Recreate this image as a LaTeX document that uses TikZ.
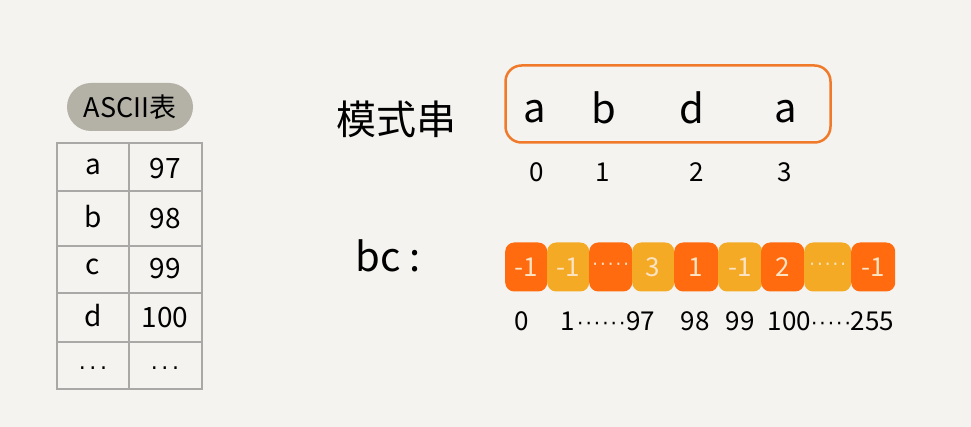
\documentclass[tikz,border=0pt]{standalone}
\usepackage{fontspec}
\setmainfont{Noto Sans CJK SC}
\newfontfamily\dv{DejaVu Sans}
\usetikzlibrary{calc}
\definecolor{bg}{HTML}{F5F3EF}
\definecolor{blob}{HTML}{B4B1A7}
\definecolor{grid}{HTML}{A9A8A6}
\definecolor{ring}{HTML}{F07A2A}
\definecolor{dark}{HTML}{FF6B0E}
\definecolor{light}{HTML}{F5AA25}
\definecolor{cream}{HTML}{FBE3C4}
\newcommand{\dts}[2][16]{{\dv\fontsize{#1}{#1}\selectfont #2}}
\newcommand{\dd}{·\kern2pt}
\begin{document}
\begin{tikzpicture}[x=1pt,y=-1pt,
  txt/.style={font=\fontsize{28}{30}\selectfont, text=black, inner sep=0pt},
  big/.style={font=\fontsize{40}{44}\selectfont, text=black, inner sep=0pt},
  idx/.style={font=\fontsize{26}{28}\selectfont, text=black, inner sep=0pt},
  cellbox/.style={rounded corners=9pt, minimum height=49pt, inner sep=0pt, text=cream,
    font=\fontsize{26}{28}\selectfont, anchor=west}]
\fill[bg] (0,0) rectangle (971,427);
\useasboundingbox (0,0) rectangle (971,427);
% ASCII label
\node[fill=blob, rounded corners=24pt, minimum width=126pt, minimum height=48pt, inner sep=0pt] (lbl) at (130,107) {};
\node[font=\fontsize{27}{29}\selectfont, inner sep=0pt] (lbltxt) at (lbl) {ASCII表};
% table
\draw[grid, line width=2pt] (57,143) rectangle (202,389);
\foreach \yy in {191,246,293,342} \draw[grid, line width=2pt] (57,\yy) -- (202,\yy);
\draw[grid, line width=2pt] (129,143) -- (129,389);
\node[txt] (ta) at (93,167) {a};   \node[txt] (va) at (165,169) {97};
\node[txt] (tb) at (93,217) {b};   \node[txt] (vb) at (165,219) {98};
\node[txt] (tc) at (93,267) {c};   \node[txt] (vc) at (165,269) {99};
\node[txt] (td) at (93,316) {d};   \node[txt] (vd) at (165,318) {100};
\node[txt] (te) at (93,368) {\dts[22]{.\,.\,.}}; \node[txt] (ve) at (165,368) {\dts[22]{.\,.\,.}};
% pattern
\node[big] (ms) at (396,119) {模式串};
\node[draw=ring, line width=2.5pt, rounded corners=16pt, minimum width=325pt, minimum height=77pt] (pbox) at (668,104) {};
\node[big] (p0) at (535,112) {a};
\node[big] (p1) at (604,108) {b};
\node[big] (p2) at (692,108) {d};
\node[big] (p3) at (786,112) {a};
\node[idx] (i0) at (537,172) {0};
\node[idx] (i1) at (603,172) {1};
\node[idx] (i2) at (697,172) {2};
\node[idx] (i3) at (785,172) {3};
% bc
\node[big] (bc) at (388,256) {bc :};
\node[cellbox, fill=dark,  minimum width=42pt] (c1) at (505,267) {-1};
\node[cellbox, fill=light, minimum width=42pt] (c2) at (547,267) {-1};
\node[cellbox, fill=dark,  minimum width=43pt] (c3) at (589,267) {\dts[18]{\dd\dd\dd\dd·}};
\node[cellbox, fill=light, minimum width=42pt] (c4) at (632,267) {3};
\node[cellbox, fill=dark,  minimum width=44pt] (c5) at (674,267) {1};
\node[cellbox, fill=light, minimum width=44pt] (c6) at (718,267) {-1};
\node[cellbox, fill=dark,  minimum width=43pt] (c7) at (761,267) {2};
\node[cellbox, fill=light, minimum width=47pt] (c8) at (804,267) {\dts[18]{\dd\dd\dd\dd·}};
\node[cellbox, fill=dark,  minimum width=44pt] (c9) at (851,267) {-1};
\node[idx] (j0) at (522,321) {0};
\node[idx] (j1) at (608,321) {1\kern2pt\dts[20]{\dd\dd\dd\dd\dd·}\kern1pt97};
\node[idx] (j2) at (695,321) {98};
\node[idx] (j3) at (740,321) {99};
\node[idx] (j4) at (831,321) {100\dts[20]{\dd\dd\dd\dd·}255};
\end{tikzpicture}
\end{document}
